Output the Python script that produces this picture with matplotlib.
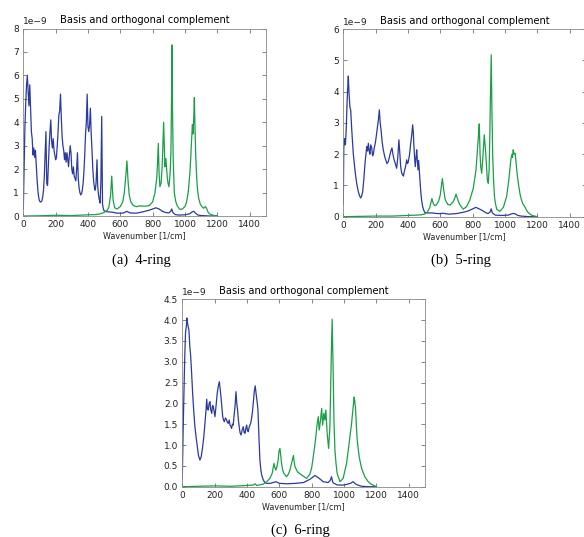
"""
Basis vs. orthogonal complement spectra for the 4-, 5- and 6-ring models.
"""

import numpy as np
import matplotlib
matplotlib.use('Agg')
import matplotlib.pyplot as plt

SCALE = 1e-9  # all intensities below are in units of 1e-9

# ---- (a) 4-ring ----
wn_a_basis = [0, 5, 10, 15, 20, 25, 30, 35, 40, 45, 50, 55, 60, 65, 70, 75, 80, 85, 90, 95,
              100, 105, 110, 115, 120, 125, 130, 135, 140, 145, 150, 155, 160, 165, 170, 175,
              180, 185, 190, 195, 200, 205, 210, 215, 220, 225, 230, 235, 240, 245, 250, 255,
              260, 265, 270, 275, 280, 285, 290, 295, 300, 305, 310, 315, 320, 325, 330, 335,
              340, 345, 350, 355, 360, 365, 370, 375, 380, 385, 390, 395, 400, 405, 410, 415,
              420, 425, 430, 435, 440, 445, 450, 456, 460, 465, 470, 475, 480, 485, 490, 495,
              500, 520, 540, 560, 580, 600, 620, 640, 660, 700, 740, 780, 800, 820, 840, 860,
              880, 900, 912, 918, 925, 940, 960, 1000, 1030, 1045, 1055, 1065, 1080, 1100,
              1150, 1200]
basis_a = [0.3, 2.0, 3.8, 4.8, 5.6, 6.0, 5.3, 4.7, 5.6, 4.6, 3.6, 3.3, 2.6, 2.9, 2.5, 2.8, 2.2,
           1.6, 1.1, 0.8, 0.65, 0.6, 0.6, 0.65, 0.8, 1.1, 1.7, 2.6, 3.6, 1.4, 1.3, 2.2, 3.0,
           3.6, 4.1, 3.2, 2.9, 3.3, 2.8, 2.6, 2.4, 2.5, 3.0, 3.6, 4.3, 4.5, 5.2, 4.2, 3.4, 3.0,
           2.8, 2.4, 2.7, 2.3, 2.7, 2.4, 2.1, 2.6, 3.0, 2.7, 2.0, 1.8, 2.1, 1.7, 1.6, 1.5, 2.0,
           2.7, 1.6, 1.2, 1.0, 0.9, 0.95, 1.1, 1.4, 1.9, 2.6, 3.5, 4.0, 5.2, 3.8, 3.6, 3.9, 4.6,
           3.5, 2.8, 2.0, 1.5, 1.2, 1.1, 1.4, 2.4, 1.3, 0.9, 0.7, 0.55, 1.5, 4.25, 0.5, 0.3,
           0.22, 0.18, 0.17, 0.15, 0.12, 0.12, 0.13, 0.2, 0.13, 0.12, 0.18, 0.25, 0.3, 0.35,
           0.3, 0.2, 0.15, 0.13, 0.2, 0.3, 0.15, 0.06, 0.04, 0.05, 0.1, 0.18, 0.2, 0.12, 0.04,
           0.02, 0.0, 0.0]
wn_a_comp = [0, 100, 200, 300, 400, 450, 480, 500, 520, 530, 540, 547, 555, 565, 580, 600,
             615, 625, 635, 641, 648, 655, 665, 680, 700, 720, 740, 760, 780, 800, 814, 825,
             830, 835, 840, 845, 852, 858, 862, 868, 873, 876, 882, 890, 895, 901, 908, 913,
             917, 920, 923, 927, 934, 942, 950, 965, 980, 1000, 1010, 1020, 1030, 1035, 1042,
             1046, 1050, 1055, 1058, 1062, 1066, 1072, 1078, 1085, 1095, 1105, 1115, 1122,
             1128, 1135, 1144, 1155, 1170, 1185, 1200]
comp_a = [0.0, 0.01, 0.03, 0.02, 0.05, 0.06, 0.1, 0.15, 0.25, 0.4, 0.9, 1.7, 0.7, 0.35, 0.3,
          0.4, 0.6, 1.0, 1.8, 2.35, 1.5, 0.9, 0.6, 0.45, 0.4, 0.43, 0.42, 0.42, 0.45, 0.6,
          0.97, 1.6, 2.2, 3.1, 1.8, 1.25, 1.4, 2.0, 2.7, 4.0, 2.8, 2.1, 2.45, 1.7, 1.4, 1.25,
          1.8, 2.7, 5.0, 7.3, 4.5, 2.5, 1.0, 0.65, 0.47, 0.3, 0.28, 0.4, 0.6, 1.0, 1.8, 2.4,
          3.4, 3.9, 3.5, 4.3, 5.05, 3.8, 2.7, 1.7, 1.1, 0.75, 0.5, 0.4, 0.33, 0.38, 0.4, 0.3,
          0.15, 0.08, 0.04, 0.01, 0.0]

# ---- (b) 5-ring ----
wn_b_basis = [0, 3, 8, 13, 18, 23, 28, 31, 35, 41, 46, 52, 57, 62, 70, 77, 85, 93, 100, 107,
              113, 120, 127, 134, 140, 145, 150, 155, 160, 165, 170, 176, 181, 186, 191, 196,
              202, 207, 212, 217, 223, 228, 233, 240, 247, 255, 262, 270, 278, 285, 293, 301,
              307, 314, 322, 330, 337, 344, 350, 355, 361, 367, 372, 377, 385, 392, 397, 402,
              410, 417, 423, 429, 433, 437, 441, 445, 450, 454, 458, 462, 466, 470, 475, 480,
              485, 491, 498, 505, 520, 550, 580, 600, 620, 650, 700, 750, 780, 800, 820, 840,
              860, 880, 895, 908, 915, 922, 940, 980, 1020, 1045, 1060, 1080, 1100, 1150, 1200]
basis_b = [0.4, 2.2, 2.5, 2.3, 2.8, 3.6, 4.2, 4.5, 4.0, 3.5, 3.4, 2.8, 2.4, 2.0, 1.6, 1.28,
           1.0, 0.8, 0.68, 0.6, 0.65, 0.8, 1.2, 1.7, 2.0, 2.25, 2.1, 2.35, 2.1, 2.0, 2.3, 2.2,
           1.95, 2.0, 2.2, 2.3, 2.5, 2.7, 2.9, 3.1, 3.42, 3.0, 2.8, 2.4, 2.15, 1.95, 1.82, 1.7,
           1.76, 1.9, 2.08, 2.2, 2.0, 1.82, 1.7, 1.55, 1.9, 2.46, 2.0, 1.6, 1.4, 1.34, 1.3,
           1.44, 1.6, 1.82, 1.7, 1.75, 2.0, 2.35, 2.6, 2.94, 2.7, 2.24, 1.9, 1.6, 1.9, 2.14,
           1.8, 1.5, 1.8, 1.5, 1.1, 0.75, 0.5, 0.32, 0.2, 0.13, 0.12, 0.12, 0.1, 0.1, 0.11,
           0.08, 0.1, 0.15, 0.2, 0.25, 0.3, 0.25, 0.2, 0.13, 0.1, 0.15, 0.25, 0.12, 0.05, 0.04,
           0.05, 0.1, 0.1, 0.04, 0.02, 0.0, 0.0]
wn_b_comp = [0, 100, 200, 300, 400, 450, 480, 500, 520, 535, 548, 555, 565, 575, 590, 600,
             607, 613, 620, 630, 645, 660, 680, 690, 697, 705, 715, 722, 742, 762, 783, 804,
             821, 831, 836, 841, 846, 850, 856, 862, 866, 872, 877, 881, 886, 891, 897, 902,
             906, 910, 915, 919, 924, 929, 935, 942, 949, 969, 990, 1010, 1024, 1036, 1043,
             1047, 1051, 1056, 1063, 1071, 1078, 1086, 1094, 1102, 1110, 1116, 1122, 1133,
             1143, 1153, 1168, 1184, 1200]
comp_b = [0.0, 0.01, 0.02, 0.02, 0.04, 0.05, 0.06, 0.08, 0.15, 0.3, 0.58, 0.45, 0.35, 0.38,
          0.5, 0.7, 1.0, 1.22, 0.9, 0.55, 0.4, 0.37, 0.48, 0.6, 0.72, 0.6, 0.45, 0.37, 0.24,
          0.32, 0.54, 0.91, 1.5, 2.24, 2.6, 2.97, 2.0, 1.6, 1.39, 1.8, 2.14, 2.62, 2.3, 2.03,
          1.6, 1.18, 1.07, 1.5, 2.5, 3.8, 5.18, 3.5, 2.0, 1.2, 0.64, 0.4, 0.24, 0.17, 0.3,
          0.64, 1.18, 1.82, 2.0, 1.9, 2.14, 2.0, 2.03, 1.6, 1.25, 0.96, 0.7, 0.54, 0.42, 0.37,
          0.33, 0.21, 0.14, 0.09, 0.04, 0.02, 0.0]

# ---- (c) 6-ring ----
wn_c_basis = [0, 5, 10, 15, 20, 25, 28, 31, 36, 41, 46, 52, 58, 64, 71, 78, 85, 93, 100, 109,
              117, 126, 133, 140, 146, 151, 156, 161, 166, 171, 176, 182, 187, 192, 197, 202,
              209, 216, 222, 229, 234, 239, 245, 250, 255, 260, 267, 274, 279, 284, 290, 295,
              300, 305, 310, 315, 320, 326, 332, 337, 342, 347, 352, 357, 363, 370, 377, 383,
              388, 393, 398, 403, 408, 415, 423, 429, 435, 440, 445, 451, 456, 460, 464, 468,
              474, 480, 486, 491, 501, 511, 522, 545, 562, 580, 600, 650, 700, 750, 790, 805,
              820, 840, 872, 902, 915, 923, 931, 938, 960, 1000, 1040, 1057, 1070, 1085, 1110,
              1150, 1200]
basis_c = [0.2, 1.3, 2.24, 3.1, 3.7, 3.85, 4.05, 3.96, 3.85, 3.76, 3.4, 3.12, 2.7, 2.24, 1.8,
           1.44, 1.2, 0.96, 0.75, 0.64, 0.72, 0.96, 1.2, 1.52, 1.8, 2.1, 1.85, 1.84, 2.0, 2.04,
           1.85, 1.76, 1.95, 1.92, 1.8, 1.68, 1.95, 2.24, 2.4, 2.52, 2.35, 2.16, 1.9, 1.68, 1.6,
           1.56, 1.65, 1.6, 1.55, 1.52, 1.6, 1.48, 1.45, 1.4, 1.5, 1.48, 1.7, 1.92, 2.28, 2.0,
           1.84, 1.6, 1.44, 1.3, 1.24, 1.35, 1.44, 1.3, 1.28, 1.4, 1.48, 1.35, 1.32, 1.45, 1.52,
           1.65, 1.84, 2.05, 2.28, 2.42, 2.25, 2.12, 2.0, 1.84, 1.2, 0.64, 0.4, 0.28, 0.16, 0.1,
           0.08, 0.08, 0.1, 0.12, 0.08, 0.07, 0.08, 0.1, 0.18, 0.22, 0.27, 0.22, 0.12, 0.1,
           0.15, 0.24, 0.1, 0.08, 0.04, 0.04, 0.08, 0.12, 0.07, 0.04, 0.01, 0.0, 0.0]
wn_c_comp = [0, 100, 200, 300, 400, 440, 450, 460, 500, 522, 542, 556, 567, 573, 579, 586, 593,
             598, 604, 609, 614, 621, 628, 645, 656, 666, 678, 687, 692, 697, 712, 738, 769,
             789, 800, 810, 820, 826, 834, 841, 847, 855, 862, 868, 876, 882, 888, 896, 905,
             913, 917, 921, 927, 933, 938, 944, 951, 958, 975, 995, 1016, 1032, 1047, 1057,
             1063, 1067, 1072, 1077, 1082, 1094, 1109, 1129, 1150, 1165, 1180, 1201]
comp_c = [0.0, 0.01, 0.02, 0.01, 0.03, 0.04, 0.07, 0.03, 0.06, 0.12, 0.2, 0.32, 0.56, 0.45,
          0.4, 0.5, 0.64, 0.85, 0.92, 0.75, 0.56, 0.4, 0.32, 0.24, 0.3, 0.4, 0.6, 0.75, 0.6,
          0.48, 0.36, 0.28, 0.2, 0.3, 0.45, 0.72, 1.0, 1.2, 1.5, 1.68, 1.36, 1.6, 1.88, 1.48,
          1.76, 1.6, 1.84, 1.28, 0.92, 1.44, 2.2, 3.04, 4.02, 2.8, 1.6, 0.88, 0.55, 0.32,
          0.12, 0.2, 0.56, 1.04, 1.52, 1.92, 2.15, 2.05, 1.84, 1.45, 1.12, 0.72, 0.44, 0.24,
          0.12, 0.07, 0.04, 0.0]

BLUE = '#2b3a9e'
GREEN = '#1a9f48'

plt.rcParams.update({
    'font.family': 'DejaVu Sans',
    'xtick.direction': 'in',
    'ytick.direction': 'in',
    'xtick.top': True,
    'ytick.right': True,
    'xtick.major.size': 3,
    'ytick.major.size': 3,
    'xtick.major.width': 0.5,
    'ytick.major.width': 0.5,
    'xtick.major.pad': 3,
    'ytick.major.pad': 3,
    'xtick.labelsize': 6.5,
    'ytick.labelsize': 6.5,
    'xtick.color': '#555555',
    'ytick.color': '#555555',
    'xtick.labelcolor': '#222222',
    'ytick.labelcolor': '#222222',
    'axes.edgecolor': '#888888',
    'axes.linewidth': 0.6,
})

W, H = 584, 537
fig = plt.figure(figsize=(W / 100, H / 100), dpi=100)


def add_panel(left, top, ymax, ystep, wn_basis, basis, wn_comp, comp, caption):
    """Place one panel using pixel coords of the axes' upper-left corner."""
    aw, ah = 242.5, 187.5
    ax = fig.add_axes([left / W, 1 - (top + ah) / H, aw / W, ah / H])
    ax.plot(wn_basis, np.array(basis) * SCALE, color=BLUE, lw=0.9)
    ax.plot(wn_comp, np.array(comp) * SCALE, color=GREEN, lw=0.9)
    ax.set_xlim(0, 1500)
    ax.set_ylim(0, ymax * SCALE)
    ax.set_xticks(np.arange(0, 1500, 200))
    ax.set_yticks(np.arange(0, ymax + ystep / 2, ystep) * SCALE)
    ax.set_title('Basis and orthogonal complement', fontsize=7.1, pad=4)
    ax.set_xlabel('Wavenumber [1/cm]', fontsize=5.8, labelpad=1.5, color='#222222')
    ax.yaxis.get_offset_text().set_fontsize(6.5)
    fig.text((left + 118) / W, 1 - (top + ah + 44) / H, caption,
             family='Liberation Serif', fontsize=10.5, ha='center', va='center')
    return ax


add_panel(23.3, 28.5, 8, 1, wn_a_basis, basis_a, wn_a_comp, comp_a, '(a)  4-ring')
add_panel(343.3, 29.2, 6, 1, wn_b_basis, basis_b, wn_b_comp, comp_b, '(b)  5-ring')
add_panel(182.3, 299.2, 4.5, 0.5, wn_c_basis, basis_c, wn_c_comp, comp_c, '(c)  6-ring')

fig.savefig('out.png', dpi=100)
